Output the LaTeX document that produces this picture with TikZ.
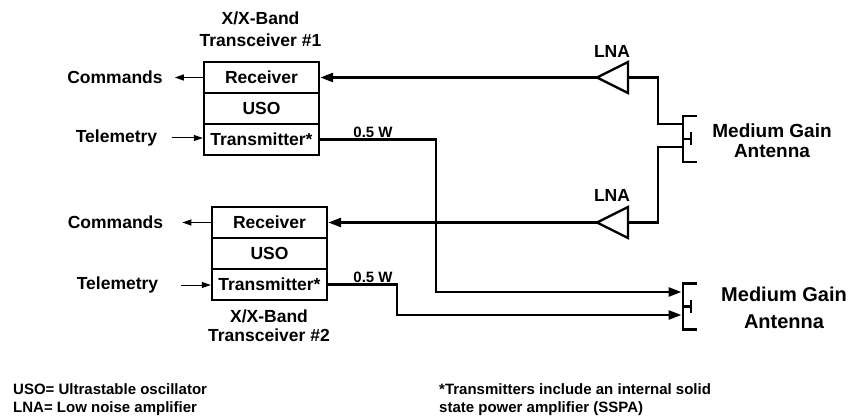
\documentclass[tikz,border=0pt]{standalone}
\usepackage{fontspec}
\setmainfont{Liberation Sans}
\usetikzlibrary{arrows.meta}
\begin{document}
\begin{tikzpicture}[x=1pt,y=-1pt,
  lbl/.style={font=\bfseries\fontsize{17.5}{22}\selectfont, inner sep=0pt, align=center},
  note/.style={font=\bfseries\fontsize{15}{18}\selectfont, inner sep=0pt, align=left},
  cell/.style={draw, line width=2.4pt, minimum width=115pt, minimum height=31pt, inner sep=0pt,
               font=\bfseries\fontsize{17.5}{21}\selectfont},
  sig/.style={line width=2.6pt},
  sigarrow/.style={sig, -{Triangle[length=13pt,width=9pt]}},
  thinarrow/.style={line width=1pt, -{Triangle[length=9pt,width=6pt]}},
  part/.style={line width=2.4pt, line join=miter}]
\useasboundingbox (0,0) rectangle (852,417);

% Transceiver #1
\node[lbl] (tr1lbl) at (260.5,29) {X/X-Band\\Transceiver \#1};
\node[cell] (rx1) at (261.5,77.5) {Receiver};
\node[cell] (uso1) at (261.5,108.5) {USO};
\node[cell] (tx1) at (261.5,139.5) {Transmitter*};
\node[lbl] (cmd1) at (115,77.5) {Commands};
\node[lbl] (tel1) at (116.5,138) {Telemetry};

% Transceiver #2
\node[cell] (rx2) at (269.5,222.5) {Receiver};
\node[cell] (uso2) at (269.5,253.5) {USO};
\node[cell] (tx2) at (269.5,284.5) {Transmitter*};
\node[lbl, font=\bfseries\fontsize{17.5}{19.5}\selectfont] (tr2lbl) at (269,325.5) {X/X-Band\\Transceiver \#2};
\node[lbl] (cmd2) at (115.5,222.5) {Commands};
\node[lbl] (tel2) at (117.5,285) {Telemetry};

% LNAs
\coordinate (lna1tip) at (597,77.5);
\coordinate (lna1base) at (628,77.5);
\draw[part] (lna1tip) -- (628,62) -- (628,93) -- cycle;
\node[lbl] (lna1lbl) at (612,51) {LNA};
\coordinate (lna2tip) at (597,222.5);
\coordinate (lna2base) at (628,222.5);
\draw[part] (lna2tip) -- (628,207) -- (628,238) -- cycle;
\node[lbl] (lna2lbl) at (612,195) {LNA};

% Antenna 1
\draw[part] (697,116) -- (683,116) -- (683,162) -- (697,162);
\draw[part] (683,139) -- (691,139);
\draw[part] (691,132.5) -- (691,145.5);
\coordinate (ant1a) at (683,124);
\coordinate (ant1b) at (683,147);
\node[lbl, font=\bfseries\fontsize{19}{20}\selectfont] (ant1lbl) at (772,141) {Medium Gain\\Antenna};

% Antenna 2
\draw[part] (697,283.5) -- (683,283.5) -- (683,329.5) -- (697,329.5);
\draw[part] (683,306.5) -- (691,306.5);
\draw[part] (691,300) -- (691,313);
\coordinate (ant2a) at (681.5,292);
\coordinate (ant2b) at (681.5,315);
\node[lbl, font=\bfseries\fontsize{20}{27}\selectfont] (ant2lbl) at (784,308) {Medium Gain\\Antenna};

% command / telemetry
\draw[thinarrow, shorten >=12pt] (rx1.west) -- (cmd1.east);
\draw[thinarrow, shorten <=15pt] (tel1.east) -- (tel1.east -| tx1.west);
\draw[thinarrow, shorten >=19pt] (rx2.west) -- (cmd2.east);
\draw[thinarrow, shorten <=23pt] (tel2.east) -- (tel2.east -| tx2.west);

% receive paths
\draw[sigarrow] (lna1tip) -- (rx1.east);
\draw[sig] (lna1base) -| (658,124) -- (ant1a);
\draw[sigarrow] (lna2tip) -- (rx2.east);
\draw[sig] (ant1b) -- (658,147) |- (lna2base);

% transmit paths
\draw[sigarrow] (tx1.east) -| (436,292) -- (ant2a);
\node[note] (pw1) at (373,132) {0.5 W};
\draw[sigarrow] (tx2.east) -| (397,315) -- (ant2b);
\node[note] (pw2) at (373,277) {0.5 W};

% notes
\node[note, anchor=west] (note1) at (13,400) {USO= Ultrastable oscillator\\LNA= Low noise amplifier};
\node[note, anchor=west] (note2) at (439,400) {*Transmitters include an internal solid\\state power amplifier (SSPA)};
\end{tikzpicture}
\end{document}
